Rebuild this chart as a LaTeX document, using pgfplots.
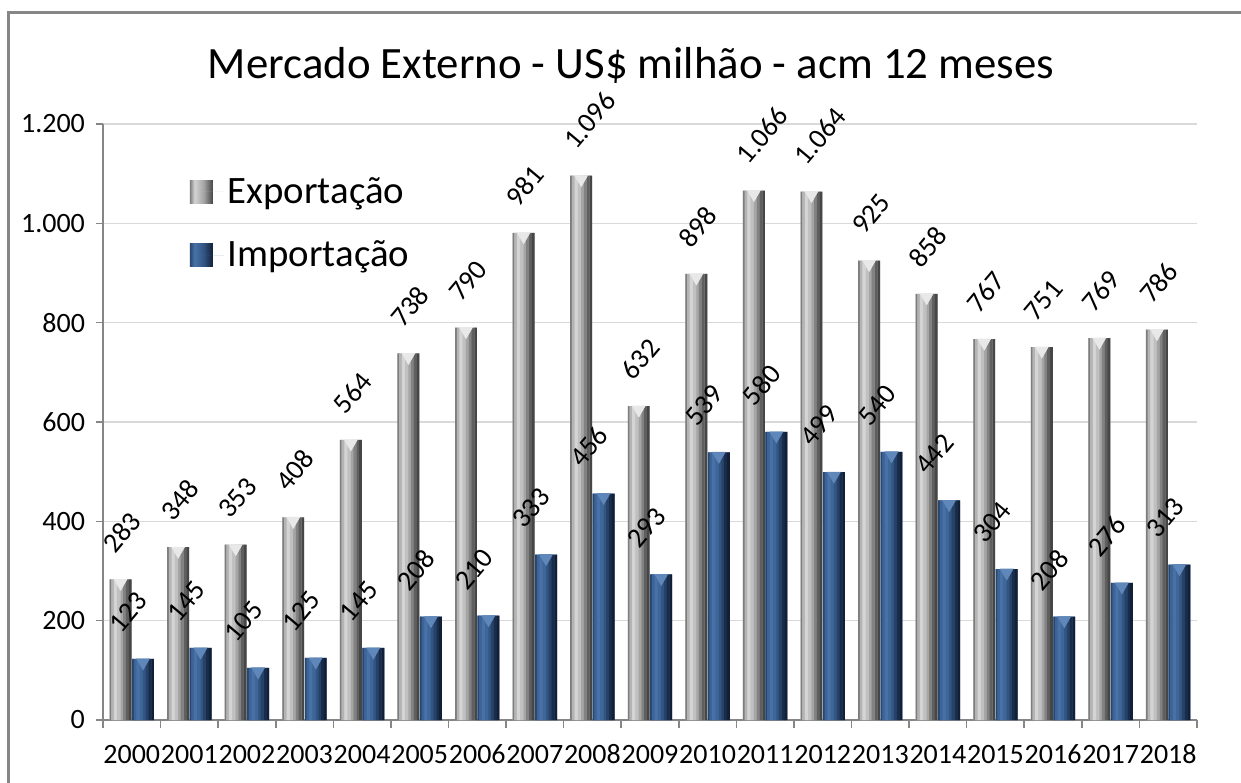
\documentclass[border=0pt]{standalone}
\usepackage{pgfplots}
\usepackage{pgfplotstable}
\pgfplotsset{compat=1.18}
\usepackage{fontspec}
\setmainfont{Carlito}

\definecolor{axisgray}{RGB}{134,134,134}
\definecolor{gridgray}{RGB}{217,217,217}
% grey bar strips, left to right
\definecolor{g1}{RGB}{125,125,125}
\definecolor{g2}{RGB}{180,180,180}
\definecolor{g3}{RGB}{212,212,212}
\definecolor{g4}{RGB}{192,192,192}
\definecolor{g5}{RGB}{165,165,165}
\definecolor{g6}{RGB}{130,130,130}
\definecolor{g7}{RGB}{95,95,95}
\definecolor{g8}{RGB}{70,70,70}
\definecolor{gtop}{RGB}{232,232,232}
% blue bar strips
\definecolor{b1}{RGB}{40,70,110}
\definecolor{b2}{RGB}{60,100,150}
\definecolor{b3}{RGB}{72,114,167}
\definecolor{b4}{RGB}{62,102,152}
\definecolor{b5}{RGB}{50,85,130}
\definecolor{b6}{RGB}{38,66,105}
\definecolor{b7}{RGB}{25,45,75}
\definecolor{b8}{RGB}{18,32,55}
\definecolor{btop}{RGB}{95,135,185}

\pgfdeclarehorizontalshading{greybar}{100bp}{color(0bp)=(g1); color(25bp)=(g1); color(35bp)=(g3); color(55bp)=(g5); color(75bp)=(g8); color(100bp)=(g8)}
\pgfdeclarehorizontalshading{bluebar}{100bp}{color(0bp)=(b1); color(25bp)=(b1); color(35bp)=(b3); color(55bp)=(b5); color(75bp)=(b8); color(100bp)=(b8)}

\pgfplotstableread{
x exp imp
0 283 123
1 348 145
2 353 105
3 408 125
4 564 145
5 738 208
6 790 210
7 981 333
8 1096 456
9 632 293
10 898 539
11 1066 580
12 1064 499
13 925 540
14 858 442
15 767 304
16 751 208
17 769 276
18 786 313
}\dados

% one vertical strip of a bar: shift, width, colour, column
\newcommand{\strip}[4]{\addplot[ybar, forget plot, draw=none, fill=#3, bar shift=#1, bar width=#2] table[x=x,y=#4] {\dados};}

\begin{document}
\begin{tikzpicture}
\useasboundingbox (0,0) rectangle (620.5pt,391pt);
% frame
\draw[axisgray, line width=1.5pt] (4pt,-2pt) -- (4pt,384.5pt) -- (625pt,384.5pt);
% title
\node[font=\fontsize{22.4}{26}\selectfont] at (315.5pt,358.5pt) {Mercado Externo - US\$ milhão - acm 12 meses};

\begin{axis}[
    at={(51.5pt,31pt)}, anchor=south west,
    scale only axis,
    width=547pt, height=298pt,
    xmin=-0.5, xmax=18.5,
    ymin=0, ymax=1200,
    ytick={0,200,...,1200},
    xtick={0,...,18},
    xticklabels={2000,2001,2002,2003,2004,2005,2006,2007,2008,2009,2010,2011,2012,2013,2014,2015,2016,2017,2018},
    minor xtick={-0.5,0.5,...,18.5},
    major x tick style={draw=none},
    minor tick length=4pt,
    major tick length=3.5pt,
    tick align=outside,
    xtick pos=bottom, ytick pos=left,
    axis x line*=bottom, axis y line*=left,
    axis line style={axisgray, line width=0.8pt},
    tick style={axisgray, line width=0.8pt},
    ymajorgrids, grid style={gridgray, line width=0.8pt},
    /pgf/number format/assume math mode=true,
    /pgf/number format/1000 sep={.},
    yticklabel style={font=\fontsize{14}{16}\selectfont, xshift=-2pt},
    xticklabel style={font=\fontsize{14}{16}\selectfont, yshift=-5pt, text height=9.5pt, text depth=0pt},
    legend style={at={(0.0735,0.925)}, anchor=north west, draw=none, fill=none,
        font=\fontsize{19.4}{22}\selectfont, row sep=13.5pt},
    legend cell align=left,
]
% Exportação
\addplot[ybar, draw=none, fill=g4, bar shift=-0.195, bar width=0.38,
    legend image code/.code={\shade[shading=greybar] (0pt,-5.75pt) rectangle (11.5pt,5.75pt); \path (0pt,0pt) -- (17pt,0pt);}]
    table[x=x,y=exp] {\dados};
\addlegendentry{Exportação}
\strip{-0.3698}{0.0324}{g1}{exp}
\strip{-0.3318}{0.0476}{g2}{exp}
\strip{-0.2805}{0.0590}{g3}{exp}
\strip{-0.2235}{0.0590}{g4}{exp}
\strip{-0.1722}{0.0476}{g5}{exp}
\strip{-0.1247}{0.0514}{g6}{exp}
\strip{-0.0753}{0.0514}{g7}{exp}
\strip{-0.0278}{0.0456}{g8}{exp}
% Importação
\addplot[ybar, draw=none, fill=b4, bar shift=0.195, bar width=0.38,
    legend image code/.code={\shade[shading=bluebar] (0pt,-5.75pt) rectangle (11.5pt,5.75pt); \path (0pt,0pt) -- (17pt,0pt);}]
    table[x=x,y=imp] {\dados};
\addlegendentry{Importação}
\strip{0.0202}{0.0324}{b1}{imp}
\strip{0.0582}{0.0476}{b2}{imp}
\strip{0.1095}{0.0590}{b3}{imp}
\strip{0.1665}{0.0590}{b4}{imp}
\strip{0.2178}{0.0476}{b5}{imp}
\strip{0.2653}{0.0514}{b6}{imp}
\strip{0.3147}{0.0514}{b7}{imp}
\strip{0.3622}{0.0456}{b8}{imp}
% bevel on the bar tops
\addplot[forget plot, only marks, color=gtop, mark=triangle*, mark size=3.6pt,
    mark options={draw=gtop, fill=gtop, yshift=-1.8pt, rotate=180}]
    table[x expr=\thisrow{x}-0.195, y=exp] {\dados};
\addplot[forget plot, only marks, color=btop, mark=triangle*, mark size=3.6pt,
    mark options={draw=btop, fill=btop, yshift=-1.8pt, rotate=180}]
    table[x expr=\thisrow{x}+0.195, y=imp] {\dados};
% data labels
\addplot[ybar, forget plot, draw=none, fill=none, bar shift=-0.195, bar width=0.38,
    nodes near coords,
    every node near coord/.append style={font=\fontsize{14}{16}\selectfont, black, inner sep=0pt, anchor=south west, xshift=-8pt, yshift=12pt, rotate=50}]
    table[x=x,y=exp] {\dados};
\addplot[ybar, forget plot, draw=none, fill=none, bar shift=0.195, bar width=0.38,
    nodes near coords,
    every node near coord/.append style={font=\fontsize{14}{16}\selectfont, black, inner sep=0pt, anchor=south west, xshift=-5pt, yshift=12pt, rotate=50}]
    table[x=x,y=imp] {\dados};
\end{axis}
\end{tikzpicture}
\end{document}
